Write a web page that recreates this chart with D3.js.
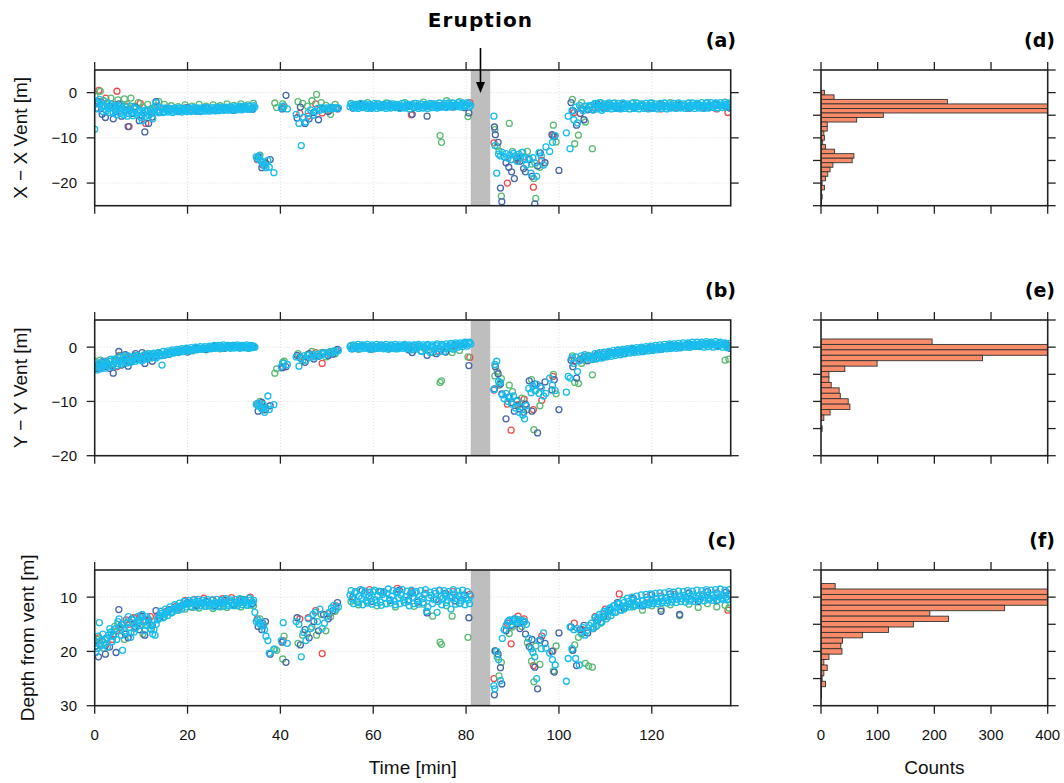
<!DOCTYPE html>
<html><head><meta charset="utf-8">
<script src="https://cdn.jsdelivr.net/npm/d3@7"></script>
<style>body{margin:0;background:#fff}svg{display:block}</style>
</head><body><svg id="c" width="1064" height="783"></svg>
<script>
// ---------------- DATA ----------------
const xTicks = [0,20,40,60,80,100,120];
const countTicks = [0,100,200,300,400];
const eruption = [81, 85.2];
const panelTags = ["(a)","(b)","(c)"];
const histTags = ["(d)","(e)","(f)"];
const yTitles = ["X − X Vent [m]","Y − Y Vent [m]","Depth from vent [m]"];

const cyanT = [0,0.5,1,1.5,2,2.5,3,3.5,4,4.5,5,5.5,6,6.5,7,7.5,8,8.5,9,9.5,10,10.5,11,11.5,12,12.5,13,13.5,14,14.5,15,15.5,16,16.5,17,17.5,18,18.5,19,19.5,20,20.5,21,21.5,22,22.5,23,23.5,24,24.5,25,25.5,26,26.5,27,27.5,28,28.5,29,29.5,30,30.5,31,31.5,32,32.5,33,33.5,34,34.5,
34.8,35.1,35.4,35.7,36.0,36.3,36.6,36.9,37.3,37.6,38.6,40.2,40.6,41.5,43.4,44.0,44.5,45.0,45.5,46.0,46.5,47.0,47.5,48.0,48.5,49.0,49.5,50.0,50.5,51.0,51.5,52.0,52.5,
55,55.5,56,56.5,57,57.5,58,58.5,59,59.5,60,60.5,61,61.5,62,62.5,63,63.5,64,64.5,65,65.5,66,66.5,67,67.5,68,68.5,69,69.5,70,70.5,71,71.5,72,72.5,73,73.5,74,74.5,75,75.5,76,76.5,77,77.5,78,78.5,79,79.5,80,80.5,81,
86.0,86.2,86.6,87.0,87.4,87.8,88.2,88.6,89.0,89.4,89.8,90.2,90.6,91.0,91.4,91.8,92.2,92.6,93.0,93.5,94.0,94.4,94.8,95.2,95.7,96.2,96.7,97.2,98.0,98.6,99.2,101.6,102.0,102.4,102.8,103.2,103.6,104.0,104.4,104.8,105.2,105.6,106.0,106.5,
107,107.5,108,108.5,109,109.5,110,110.5,111,111.5,112,112.5,113,113.5,114,114.5,115,115.5,116,116.5,117,117.5,118,118.5,119,119.5,120,120.5,121,121.5,122,122.5,123,123.5,124,124.5,125,125.5,126,126.5,127,127.5,128,128.5,129,129.5,130,130.5,131,131.5,132,132.5,133,133.5,134,134.5,135,135.5,136,136.5,137];
const cyanX = [-8.1,-2.5,-1.5,-3.2,-2.8,-4.0,-3.5,-2.6,-4.5,-3.8,-3.0,-4.6,-3.4,-4.2,-5.2,-3.9,-4.4,-3.6,-4.8,-4.1,-5.5,-4.6,-5.2,-4.0,-4.6,-5.8,-3.0,-3.9,-4.1,-3.6,-4.2,-3.8,-4.0,-3.7,-4.1,-3.8,-3.6,-4.0,-3.7,-3.9,-3.6,-4.0,-3.8,-3.5,-3.9,-3.7,-4.0,-3.6,-3.8,-3.5,-3.9,-3.6,-3.8,-3.4,-3.7,-3.5,-3.8,-3.4,-3.6,-3.3,-3.7,-3.4,-3.6,-3.2,-3.5,-3.3,-3.6,-3.1,-3.4,-3.2,
-14.2,-14.6,-14.0,-15.0,-15.4,-15.8,-16.2,-16.6,-15.0,-16.5,-17.7,-3.4,-3.0,-3.6,-4.8,-6.8,-11.7,-5.5,-6.5,-4.5,-3.8,-5.0,-4.2,-3.5,-3.9,-3.3,-3.7,-3.4,-3.6,-3.2,-3.5,-3.3,-3.4,
-3.1,-2.8,-3.0,-3.2,-2.9,-3.1,-2.8,-3.0,-3.2,-2.9,-3.1,-2.8,-3.0,-3.3,-2.9,-3.1,-2.8,-3.0,-3.2,-2.9,-3.1,-2.8,-3.0,-3.2,-2.9,-3.1,-2.7,-3.0,-3.2,-2.8,-3.0,-3.3,-2.9,-3.1,-2.7,-3.0,-2.8,-3.1,-2.9,-3.2,-2.8,-3.0,-2.7,-3.0,-2.8,-3.1,-2.7,-2.9,-2.6,-2.9,-2.7,-2.5,-2.8,
-5.2,-11.7,-17.8,-13.6,-14.0,-13.2,-14.2,-13.5,-14.5,-13.8,-14.8,-13.4,-14.0,-15.2,-13.6,-14.2,-13.2,-14.6,-16.0,-14.5,-17.8,-14.4,-15.5,-18.5,-13.3,-14.0,-16.0,-12.0,-13.0,-11.0,-9.5,-8.9,-5.2,-12.4,-4.0,-6.0,-3.2,-6.7,-2.8,-3.5,-4.0,-3.0,-3.6,-2.9,
-2.8,-3.4,-2.6,-3.2,-2.9,-3.5,-3.0,-2.7,-3.2,-2.9,-3.1,-2.8,-3.0,-3.3,-2.9,-3.1,-2.8,-3.0,-3.2,-2.9,-3.1,-2.8,-3.0,-3.2,-2.9,-3.1,-2.8,-3.0,-3.2,-2.9,-3.1,-2.8,-3.0,-3.2,-2.9,-3.1,-2.8,-3.0,-3.1,-2.8,-3.0,-3.2,-2.9,-3.1,-2.8,-3.0,-2.7,-3.0,-2.8,-3.1,-2.9,-2.7,-3.0,-2.8,-2.6,-2.9,-2.7,-2.9,-2.6,-2.8,-2.7];
const cyanY = [-3.6,-4.2,-3.0,-3.8,-3.3,-2.8,-3.5,-2.6,-3.1,-2.4,-3.0,-1.8,-2.6,-2.2,-2.9,-2.0,-2.5,-1.7,-2.3,-1.9,-2.4,-1.6,-2.0,-1.5,-1.9,-1.4,-1.8,-1.2,-1.5,-3.3,-1.3,-1.0,-1.2,-0.9,-1.1,-0.8,-0.9,-0.6,-0.8,-0.5,-0.7,-0.4,-0.6,-0.4,-0.5,-0.2,-0.4,-0.2,-0.3,-0.1,-0.3,0.0,-0.2,0.1,-0.1,0.1,-0.1,0.2,0.0,0.1,-0.1,0.2,0.0,0.1,-0.1,0.2,0.0,0.1,-0.1,0.0,
-10.5,-10.8,-10.3,-11.0,-11.4,-10.6,-12.0,-11.2,-9.0,-11.5,-10.6,-3.6,-3.0,-3.2,-1.8,-3.5,-2.0,-1.6,-2.4,-1.5,-1.9,-1.4,-1.8,-1.3,-1.6,-1.2,-1.0,-1.4,-0.9,-1.1,-0.7,-0.9,-0.6,
0.1,-0.2,0.2,-0.1,0.1,0.3,0.0,0.2,-0.1,0.1,0.2,-0.2,0.1,0.3,0.0,0.2,-0.1,0.1,0.3,0.0,0.2,-0.1,0.1,0.3,0.0,0.2,-0.2,0.1,0.3,-0.1,0.2,-0.8,0.1,0.3,-0.6,0.2,0.0,0.3,-0.9,0.1,0.3,-0.3,0.2,0.4,-0.2,0.5,0.3,0.6,0.4,0.7,0.5,0.8,0.6,
-7.8,-3.2,-2.6,-6.3,-6.5,-8.8,-9.5,-8.5,-10.0,-9.2,-10.5,-9.0,-11.2,-10.0,-12.0,-11.0,-12.5,-13.2,-10.8,-7.6,-8.4,-7.2,-8.0,-6.8,-8.5,-7.5,-9.0,-8.5,-5.7,-7.0,-8.0,-8.3,-5.4,-5.7,-2.0,-3.0,-1.8,-4.5,-2.5,-1.6,-2.2,-1.4,-2.0,-1.7,
-1.9,-1.6,-2.0,-1.5,-1.7,-1.3,-1.6,-1.2,-1.4,-1.0,-1.2,-0.9,-1.1,-0.8,-0.9,-0.6,-0.8,-0.5,-0.7,-0.4,-0.6,-0.3,-0.5,-0.3,-0.4,-0.2,-0.3,-0.1,-0.2,0.0,-0.1,0.1,0.0,0.2,0.1,0.3,0.1,0.3,0.2,0.4,0.2,0.4,0.3,0.5,0.3,0.5,0.4,0.6,0.4,0.6,0.5,0.7,0.4,0.6,0.5,0.7,0.4,0.6,0.3,0.2,0.1];
const cyanD = [18.5,19.5,14.7,18.0,18.8,17.5,17.0,16.5,17.2,15.8,14.5,15.5,19.8,16.2,14.8,15.6,14.2,16.4,15.0,14.3,13.8,14.6,15.2,14.0,15.8,16.8,17.0,14.2,13.4,13.0,13.2,12.8,12.5,12.7,12.2,12.0,11.8,11.6,11.5,11.2,11.3,11.0,11.2,10.9,11.1,10.8,11.2,11.0,11.3,10.9,11.1,11.4,11.0,11.2,10.9,11.1,11.0,11.3,10.8,11.0,11.2,10.9,11.1,10.7,11.0,10.8,11.1,10.6,10.9,12.8,
14.5,14.2,14.8,15.0,14.6,15.3,16.0,17.2,18.0,20.3,19.6,18.0,14.7,18.5,14.5,15.0,21.0,16.5,18.0,14.0,15.8,13.2,12.8,14.5,12.2,15.8,14.8,13.5,12.8,12.0,11.5,12.2,11.8,
9.6,10.4,9.2,10.8,9.8,10.2,9.4,10.6,9.9,10.3,9.0,10.5,9.7,10.9,9.5,10.1,9.3,10.4,9.8,10.7,9.1,10.2,9.6,10.5,9.9,10.8,9.4,10.0,9.2,10.6,9.8,10.3,9.5,12.6,10.1,9.7,10.4,9.3,10.8,9.9,10.2,9.6,10.5,9.8,10.1,9.4,10.3,9.7,10.6,9.9,10.2,10.5,9.8,
26.3,26.9,20.0,21.5,25.4,17.6,16.0,15.2,14.5,14.2,15.0,14.4,14.0,14.6,14.2,14.8,14.3,14.5,15.0,17.6,19.5,20.2,21.0,25.0,18.0,19.5,16.6,19.4,20.3,21.5,22.5,25.5,21.3,15.5,19.5,16.0,21.3,15.8,22.5,16.5,15.6,17.0,16.2,15.2,
14.8,15.5,14.2,13.8,14.6,13.0,13.5,12.6,12.0,12.8,11.5,11.9,11.2,12.4,11.0,11.6,10.8,11.3,10.6,11.4,10.9,11.5,10.7,11.2,10.5,11.0,10.4,10.9,10.3,10.8,10.2,10.7,10.1,10.6,10.0,10.5,9.9,10.4,9.8,10.3,9.7,10.2,9.9,10.4,9.6,10.1,9.8,10.3,9.5,10.0,9.7,10.2,9.6,10.1,9.4,9.9,10.2,9.7,10.0,10.4,9.8];

// second cyan pass, interleaved detections in the dense stretches
const cyanT2 = [0.25,0.75,1.25,1.75,2.25,2.75,3.25,3.75,4.25,4.75,5.25,5.75,6.25,6.75,7.25,7.75,8.25,8.75,9.25,9.75,10.25,10.75,11.25,11.75,12.25,12.75,13.25,13.75,14.25,14.75,15.25,15.75,16.25,16.75,17.25,17.75,18.25,18.75,19.25,19.75,20.25,20.75,21.25,21.75,22.25,22.75,23.25,23.75,24.25,24.75,25.25,25.75,26.25,26.75,27.25,27.75,28.25,28.75,29.25,29.75,30.25,30.75,31.25,31.75,32.25,32.75,33.25,33.75,34.25,
55.25,55.75,56.25,56.75,57.25,57.75,58.25,58.75,59.25,59.75,60.25,60.75,61.25,61.75,62.25,62.75,63.25,63.75,64.25,64.75,65.25,65.75,66.25,66.75,67.25,67.75,68.25,68.75,69.25,69.75,70.25,70.75,71.25,71.75,72.25,72.75,73.25,73.75,74.25,74.75,75.25,75.75,76.25,76.75,77.25,77.75,78.25,78.75,79.25,79.75,80.25,80.75,
107.25,107.75,108.25,108.75,109.25,109.75,110.25,110.75,111.25,111.75,112.25,112.75,113.25,113.75,114.25,114.75,115.25,115.75,116.25,116.75,117.25,117.75,118.25,118.75,119.25,119.75,120.25,120.75,121.25,121.75,122.25,122.75,123.25,123.75,124.25,124.75,125.25,125.75,126.25,126.75,127.25,127.75,128.25,128.75,129.25,129.75,130.25,130.75,131.25,131.75,132.25,132.75,133.25,133.75,134.25,134.75,135.25,135.75,136.25,136.75];
const cyanX2 = [-2.0,-3.6,-2.4,-4.2,-3.0,-2.2,-4.4,-3.2,-2.9,
-4.9,-3.5,-2.8,-4.9,-3.2,-4.6,-3.0,-5.1,-3.4,-4.4,
-3.9,-6.2,-4.0,-3.8,-5.0,-4.4,-3.4,-2.2,-4.4,-3.3,
-4.4,-3.4,-4.3,-3.5,-4.4,-3.4,-4.2,-3.4,-4.3,-3.5,
-4.2,-3.4,-4.2,-3.3,-4.1,-3.4,-4.2,-3.3,-4.1,-3.3,
-4.1,-3.3,-4.0,-3.2,-4.0,-3.2,-3.9,-3.2,-3.9,-3.1,
-3.9,-3.1,-3.8,-3.0,-3.8,-3.0,-3.7,-3.0,-3.7,-2.9,
-2.5,-3.4,-2.6,-3.5,-2.4,-3.3,-2.5,-3.5,-2.6,-3.4,
-2.4,-3.5,-2.5,-3.3,-2.6,-3.5,-2.4,-3.4,-2.5,-3.3,
-2.6,-3.5,-2.4,-3.4,-2.5,-3.6,-2.6,-3.3,-2.4,-3.5,
-2.5,-3.4,-2.6,-3.5,-2.4,-3.3,-2.5,-3.4,-2.3,-3.2,
-2.4,-3.3,-2.3,-3.2,-2.4,-3.1,-2.2,-3.2,-2.3,-3.0,
-2.2,-3.1,
-3.8,-2.4,-3.6,-2.2,-3.9,-2.5,-3.5,-2.3,-3.6,-2.4,
-3.5,-2.4,-3.6,-2.3,-3.5,-2.5,-3.6,-2.4,-3.5,-2.3,
-3.6,-2.5,-3.5,-2.4,-3.6,-2.3,-3.5,-2.5,-3.6,-2.4,
-3.5,-2.3,-3.6,-2.5,-3.4,-2.4,-3.5,-2.3,-3.4,-2.5,
-3.5,-2.4,-3.4,-2.3,-3.5,-2.4,-3.4,-2.2,-3.5,-2.3,
-3.4,-2.2,-3.3,-2.3,-3.4,-2.2,-3.3,-2.2,-3.2,-2.3];
const cyanY2 = [-2.9,-3.7,-4.0,-2.6,-3.9,-3.0,-2.3,-3.6,-2.2,
-3.4,-2.4,-3.1,-1.6,-2.7,-1.6,-2.8,-2.0,-2.6,-1.5,
-2.1,-2.5,-1.4,-2.2,-1.2,-1.9,-1.1,-2.0,-1.0,-1.6,
-0.8,-1.4,-0.7,-1.2,-0.5,-1.0,-0.4,-0.9,-0.3,-0.8,
-0.2,-0.6,-0.1,-0.5,0.0,-0.4,0.1,-0.3,0.1,-0.2,
0.2,-0.2,0.3,-0.1,0.3,-0.2,0.4,-0.1,0.3,-0.2,
0.3,-0.1,0.4,-0.2,0.3,-0.1,0.4,-0.2,0.3,0.2,
-0.3,0.4,-0.2,0.5,-0.3,0.4,-0.2,0.5,-0.4,0.4,
-0.3,0.5,-0.2,0.4,-0.3,0.5,-0.4,0.4,-0.2,0.5,
-0.3,0.4,-0.2,0.5,-0.3,0.4,-0.5,0.4,-0.3,0.5,
-0.7,0.4,-0.3,0.5,-1.0,0.4,-0.4,0.6,-0.2,0.5,
-0.8,0.6,-0.1,0.7,-0.4,0.8,0.0,0.8,0.1,0.9,
0.2,0.9,
-2.3,-1.2,-2.1,-1.0,-2.0,-0.9,-1.8,-0.8,-1.7,-0.6,
-1.5,-0.5,-1.4,-0.4,-1.2,-0.3,-1.1,-0.2,-1.0,-0.1,
-0.9,0.0,-0.8,0.1,-0.7,0.2,-0.6,0.3,-0.5,0.4,
-0.4,0.5,-0.3,0.6,-0.2,0.6,-0.2,0.7,-0.1,0.8,
0.0,0.8,0.0,0.9,0.1,0.9,0.1,0.9,0.0,1.0,
0.1,0.9,0.0,1.0,0.1,0.9,0.0,0.8,-0.1,0.7];
const cyanD2 = [20.2,17.2,19.0,16.8,17.8,19.2,15.8,18.2,16.0,
17.8,14.0,17.0,15.0,16.6,13.6,17.4,14.8,15.8,13.6,
15.2,13.2,16.2,13.6,14.8,15.2,16.0,15.0,13.8,12.6,
13.8,12.2,13.4,11.8,12.8,11.4,12.4,11.1,12.2,10.8,
11.8,10.6,11.7,10.5,11.8,10.4,11.6,10.6,11.7,10.4,
11.6,10.5,11.8,10.4,11.6,10.6,11.7,10.3,11.6,10.5,
11.5,10.4,11.6,10.3,11.4,10.5,11.5,10.2,11.4,10.6,
8.8,11.2,9.0,11.0,8.6,11.4,8.9,11.1,9.1,11.3,
8.7,11.0,8.9,11.5,9.0,11.2,8.5,11.1,8.8,11.4,
9.0,11.2,8.6,11.0,8.9,11.6,8.7,11.2,9.0,11.3,
8.8,11.0,8.6,11.8,9.1,11.2,8.9,12.8,8.7,11.4,
8.8,11.0,9.0,12.2,8.6,11.3,8.9,11.1,8.7,11.4,
9.0,11.2,
15.8,13.8,15.2,13.2,14.6,12.6,14.0,12.2,13.4,11.6,
12.8,11.2,12.4,10.6,12.0,10.2,11.8,10.0,11.6,9.8,
11.5,9.6,11.4,9.5,11.4,9.4,11.2,9.3,11.2,9.2,
11.0,9.2,11.1,9.0,10.9,9.1,11.0,8.9,10.8,9.0,
10.9,8.8,10.7,8.9,10.8,8.7,10.6,8.8,10.7,8.6,
10.5,8.7,10.6,8.6,10.5,8.5,10.4,8.7,10.5,8.6];

const blueT = [0.3,0.8,1.6,2.3,3.2,4.0,4.6,5.2,5.8,6.6,7.2,8.0,8.8,9.6,10.2,10.8,11.6,12.4,13.2,14.0,16,18,20,22,24,26,28,30,32,34,35.2,36.0,36.8,37.8,40.4,41.2,43.6,44.3,45.3,46.2,47.2,48.2,49.3,50.3,51.3,52.3,55.6,57.6,59.6,61.6,63.6,65.6,67.6,68.4,69.6,71.6,73.6,75.6,77.6,79.6,80.6,86.1,86.3,86.9,87.4,87.7,88.6,89.2,89.8,90.4,91.0,91.6,92.4,92.8,93.6,94.2,94.8,95.4,96.0,97.0,98.5,99.0,100.0,102.6,103.0,103.8,104.6,105.4,106.2,107.4,108.4,109.6,111.0,112.6,114.0,116.0,118.0,120.0,122.0,124.0,126,128,130,132,134,136,136.8];
const blueX = [-3.5,-2.0,-4.8,-5.5,-3.0,-5.8,-4.2,-2.5,-5.2,-3.8,-7.5,-4.6,-3.2,-6.2,-5.0,-8.7,-6.8,-5.4,-2.0,-4.4,-3.5,-4.2,-3.3,-4.1,-3.4,-4.0,-3.3,-3.9,-3.2,-3.7,-14.2,-16.6,-15.6,-14.8,-3.6,-0.6,-5.6,-3.2,-6.8,-5.8,-4.4,-6.0,-3.6,-4.2,-3.3,-3.6,-3.4,-2.6,-3.4,-3.0,-2.7,-3.3,-2.9,-4.8,-3.1,-5.2,-3.0,-3.2,-2.9,-3.3,-4.5,-7.6,-9.3,-11.0,-21.1,-24.1,-15.5,-16.5,-17.5,-19.0,-14.4,-15.2,-16.8,-17.5,-14.8,-18.5,-24.6,-16.2,-13.3,-15.5,-9.3,-9.7,-17.2,-2.2,-4.0,-7.2,-4.6,-6.0,-3.8,-3.8,-2.6,-3.4,-2.8,-3.4,-2.7,-3.3,-2.9,-3.4,-2.7,-3.3,-2.8,-3.2,-2.9,-3.3,-2.8,-3.1,-3.4];
const blueY = [-3.9,-3.2,-2.7,-3.6,-3.9,-4.8,-2.4,-0.8,-3.3,-1.4,-3.5,-2.6,-1.2,-2.2,-1.0,-3.0,-1.8,-2.6,-1.5,-1.4,-1.3,-0.7,-0.9,-0.2,-0.4,0.2,-0.2,0.3,0.0,0.2,-11.8,-10.2,-11.5,-10.8,-3.8,-3.6,-1.5,-2.0,-2.8,-1.2,-2.2,-1.7,-1.0,-1.6,-1.3,-0.4,-0.3,0.2,-0.4,0.3,-0.2,0.1,-0.5,-1.0,0.2,-1.5,-1.2,-0.9,0.3,0.6,-3.4,-7.7,-3.6,-4.9,-6.8,-8.6,-13.2,-9.2,-10.2,-11.8,-9.8,-11.4,-12.0,-10.5,-6.2,-11.8,-6.8,-15.8,-7.2,-6.4,-7.9,-6.0,-11.5,-2.4,-3.6,-5.7,-2.2,-1.8,-2.5,-2.0,-1.2,-1.8,-1.0,-0.6,-1.2,-0.4,-0.8,0.1,-0.4,0.3,-0.1,0.6,0.2,0.7,0.3,0.6,-0.2];
const blueD = [19.0,21.0,18.0,20.5,19.2,17.0,20.2,12.3,15.0,16.8,17.5,14.0,15.5,16.0,13.5,17.0,14.2,15.2,12.5,13.8,12.3,12.0,11.0,11.5,10.8,11.6,10.6,11.4,10.5,11.2,15.4,16.0,14.5,20.5,18.3,22.0,13.8,18.8,16.0,17.5,14.5,16.2,13.2,14.0,12.5,11.0,10.0,8.8,10.8,9.0,10.6,8.7,10.5,9.2,10.9,12.9,10.4,9.3,10.7,9.6,13.8,28.0,19.9,20.5,23.0,26.0,16.2,14.4,15.2,14.0,14.8,15.8,14.6,16.8,19.1,17.8,22.9,26.9,17.9,18.5,20.0,23.8,16.6,15.5,19.8,22.6,16.0,15.2,16.6,15.8,14.2,13.6,12.4,11.0,12.0,10.2,11.6,9.6,12.6,9.4,13.2,9.2,10.8,9.0,10.6,9.1,9.5];

const greenT = [0.1,0.6,1.2,1.9,2.7,3.5,4.3,5.0,5.6,6.4,7.0,7.8,8.6,9.4,10.4,11.4,12.2,13.8,15.0,16.5,18.0,19.5,21.0,22.5,24.0,25.5,27.0,28.5,30.0,31.5,33.0,34.2,35.6,36.4,38.8,39.2,40.5,40.8,43.8,44.8,45.8,46.8,47.8,48.8,49.8,50.8,51.8,55.2,56.8,58.8,60.8,62.8,64.8,66.8,68.8,70.8,72.8,74.4,74.7,75.8,77.0,78.6,80.4,86.2,86.7,87.1,87.6,89.3,90.0,91.2,92.0,93.2,94.1,94.6,95.0,95.9,98.8,99.4,102.9,103.4,104.2,104.9,105.7,106.4,107.2,108.0,109.0,110.5,112.0,114.0,116.0,118.0,120.0,122.0,124.0,126.0,128.0,130.0,132.0,134.0,135.8,136.6];
const greenX = [-0.8,-2.0,0.3,-1.8,-2.5,-1.2,-3.6,-1.6,-2.8,-1.4,-2.6,-1.2,-3.0,-2.2,-3.2,-2.6,-3.6,-2.0,-2.6,-2.9,-3.1,-2.7,-3.0,-2.6,-3.0,-2.7,-2.9,-2.5,-2.8,-2.5,-2.7,-2.4,-13.8,-15.2,-2.3,-3.3,-2.5,-3.0,-2.0,-2.4,-3.0,-1.8,-0.4,-2.2,-2.8,-4.8,-2.6,-2.4,-2.6,-2.2,-2.5,-2.3,-2.6,-2.2,-2.4,-2.1,-2.5,-9.5,-11.0,-1.8,-2.3,-2.0,-5.3,-8.2,-11.9,-12.9,-22.9,-6.8,-13.0,-14.6,-13.2,-13.0,-15.8,-19.0,-23.4,-16.5,-7.2,-10.9,-1.5,-11.3,-9.4,-2.2,-6.5,-3.2,-12.4,-2.4,-2.2,-2.6,-2.3,-2.5,-2.2,-2.6,-2.3,-2.5,-2.2,-2.6,-2.3,-2.5,-2.2,-2.4,-2.1,-2.6];
const greenY = [-2.6,-3.8,-2.4,-3.0,-3.4,-2.2,-2.8,-1.9,-1.6,-3.0,-1.8,-2.4,-1.5,-2.2,-1.6,-1.2,-2.0,-1.0,-1.5,-0.8,-1.0,-0.5,-0.7,-0.3,-0.5,-0.1,-0.3,0.1,-0.1,0.1,-0.2,0.0,-10.0,-11.6,-4.8,-4.0,-2.8,-2.6,-1.2,-2.5,-1.4,-0.8,-1.6,-1.0,-1.8,-0.8,-1.2,0.3,-0.4,0.1,-0.2,0.0,-0.3,0.2,-0.5,-0.1,-1.0,-6.5,-6.2,-0.2,-1.0,-0.6,-1.8,-5.3,-4.5,-7.0,-5.8,-7.0,-8.2,-10.8,-9.4,-11.5,-6.0,-15.2,-8.0,-10.8,-5.0,-8.6,-1.6,-6.5,-6.7,-3.0,-2.5,-1.5,-5.1,-2.2,-1.6,-1.4,-1.0,-0.5,-0.8,-0.2,-0.5,0.0,-0.2,0.2,0.0,0.4,0.1,0.5,-2.4,-2.2];
const greenD = [18.2,17.8,18.6,19.4,17.6,16.4,15.4,15.0,16.2,17.8,14.6,16.6,15.8,14.8,16.8,15.2,16.0,14.0,13.6,12.9,12.4,12.2,11.9,12.0,11.7,12.1,11.8,11.9,11.6,11.8,11.5,11.6,14.0,15.2,19.6,19.8,21.4,17.2,18.5,17.0,16.8,15.5,17.0,13.2,16.2,13.6,12.6,10.8,11.4,10.9,11.6,11.2,11.8,11.0,11.7,11.3,13.5,18.3,18.7,11.6,13.5,11.2,17.4,19.9,21.0,24.5,22.0,16.7,15.5,14.2,15.4,18.4,21.8,25.6,19.0,22.4,23.6,19.0,19.8,18.8,17.4,16.8,22.2,22.7,22.9,15.4,14.8,13.6,12.8,12.2,11.8,12.4,11.6,12.2,11.4,13.4,11.3,11.9,11.2,11.8,11.5,12.0];

const redT = [0.9,2.4,3.8,4.8,5.4,6.8,7.4,8.4,9.8,11.0,12.0,13.6,15.5,17.5,19.5,21.5,23.5,25.5,27.5,29.5,31.5,33.5,35.0,36.2,40.6,44.2,46.0,47.6,49.0,50.6,52.0,56.2,59.2,62.2,65.2,68.2,71.2,74.2,77.2,80.8,86.0,88.9,89.7,91.2,92.5,94.5,96.3,98.7,103.3,105.0,107.8,110.0,113.0,116.0,119.0,122.0,125.0,128.0,131.0,134.0,136.4];
const redX = [0.5,-1.2,-2.6,0.3,-4.0,-3.0,-7.5,-3.4,-2.4,-6.8,-3.8,-3.0,-3.6,-3.9,-3.4,-3.8,-3.5,-3.9,-3.4,-3.8,-3.3,-3.6,-14.8,-16.0,-3.2,-4.6,-5.2,-2.5,-4.5,-3.9,-3.5,-3.0,-3.2,-2.9,-3.1,-4.9,-3.0,-2.9,-3.2,-2.2,-11.1,-20.0,-14.8,-15.0,-14.2,-20.9,-15.0,-9.5,-4.4,-3.6,-3.4,-3.3,-3.5,-3.2,-3.4,-3.6,-3.3,-3.5,-3.4,-3.6,-4.4];
const redY = [-3.8,-2.6,-3.4,-3.6,-1.5,-2.0,-2.8,-1.8,-2.2,-1.4,-1.7,-1.1,-1.0,-0.8,-0.4,-0.5,-0.2,0.1,0.0,0.2,0.0,0.2,-10.4,-11.0,-3.7,-1.8,-1.4,-1.0,-3.0,-1.2,-0.6,0.2,0.0,0.1,-0.1,0.2,-0.3,-0.8,0.2,-1.9,-7.9,-10.5,-15.3,-10.6,-9.6,-11.5,-9.8,-5.4,-2.5,-2.2,-1.7,-1.0,-0.9,-0.5,-0.2,0.0,0.2,0.3,0.5,0.4,0.3];
const redD = [17.5,18.8,17.8,16.2,15.6,14.2,15.0,13.8,13.4,14.4,13.6,13.4,12.6,11.7,10.6,10.4,10.2,10.5,10.3,10.1,10.4,10.0,14.0,14.8,18.0,14.0,13.8,12.5,20.4,13.0,11.6,9.0,8.6,9.1,8.4,8.9,9.3,8.8,9.0,9.5,25.0,14.8,18.6,13.5,14.0,22.6,17.2,19.9,14.8,16.0,13.6,12.2,9.4,10.5,10.0,9.8,9.5,9.3,9.6,9.2,12.4];

// histogram bins (1 m wide, centred on integer values) and counts
const histXCenters = [0,-1,-2,-3,-4,-5,-6,-7,-8,-9,-10,-11,-12,-13,-14,-15,-16,-17,-18,-19,-20,-21,-22,-23,-24,-25];
const histXCounts  = [6,23,223,560,520,110,63,11,11,5,6,3,8,24,58,55,21,16,12,8,2,6,1,2,1,1];
const histYCenters = [1,0,-1,-2,-3,-4,-5,-6,-7,-8,-9,-10,-11,-12,-13,-14,-15];
const histYCounts  = [196,560,540,285,99,42,14,14,18,32,34,48,51,16,5,0,2];
const histDCenters = [8,9,10,11,12,13,14,15,16,17,18,19,20,21,22,23,24,25,26,27,28];
const histDCounts  = [25,560,600,540,324,192,225,163,119,73,38,35,37,14,5,11,5,2,8,1,1];

// ---------------- DRAWING ----------------
const svg = d3.select("#c");
const X0 = 94.7, X1 = 730.7, H0 = 821, H1 = 1047.7;
const tops = [70, 320, 570], PH = 135.7;
const TL = 8;
const cols = {red:"#EE4D4D", green:"#5BBB72", blue:"#4766A8", cyan:"#18BDEE"};
const series = [
  {c:cols.red,   t:redT,   v:[redX, redY, redD]},
  {c:cols.green, t:greenT, v:[greenX, greenY, greenD]},
  {c:cols.blue,  t:blueT,  v:[blueX, blueY, blueD]},
  {c:cols.cyan,  t:cyanT.concat(cyanT2),  v:[cyanX.concat(cyanX2), cyanY.concat(cyanY2), cyanD.concat(cyanD2)]}
];
const panels = [
  {dom:[-25,5], yt:[0,-10,-20], ht:[-25,-20,-15,-10,-5,0,5], hc:histXCenters, hn:histXCounts, tx:27},
  {dom:[-20,5], yt:[0,-10,-20], ht:[-20,-15,-10,-5,0,5], hc:histYCenters, hn:histYCounts, tx:27},
  {dom:[30,5],  yt:[10,20,30],  ht:[5,10,15,20,25,30], hc:histDCenters, hn:histDCounts, tx:34}
];
const x = d3.scaleLinear().domain([0,137]).range([X0,X1]);
const hx = d3.scaleLinear().domain([0,400]).range([H0,H1]);
const fmt = v => v < 0 ? "\u2212" + Math.abs(v) : String(v);
const defs = svg.append("defs");
const FONT = "'Liberation Sans', Arial, sans-serif";
const BOLD = "'DejaVu Sans', sans-serif";
const LINE = "#222";

panels.forEach((p, i) => {
  const top = tops[i], bot = top + PH;
  const y = d3.scaleLinear().domain(p.dom).range([bot, top]);
  const g = svg.append("g");
  defs.append("clipPath").attr("id","cs"+i).append("rect").attr("x",X0).attr("y",top).attr("width",X1-X0).attr("height",PH);
  defs.append("clipPath").attr("id","ch"+i).append("rect").attr("x",H0).attr("y",top).attr("width",H1-H0).attr("height",PH);

  // grid
  g.selectAll(".gv").data(xTicks.filter(d=>d>0)).join("line")
    .attr("x1",d=>x(d)).attr("x2",d=>x(d)).attr("y1",top).attr("y2",bot)
    .attr("stroke","#d6d6d6").attr("stroke-width",0.8).attr("stroke-dasharray","1,2");
  g.selectAll(".gh").data(p.yt.filter(d=>y(d)>top+1 && y(d)<bot-1)).join("line")
    .attr("x1",X0).attr("x2",X1).attr("y1",d=>y(d)).attr("y2",d=>y(d))
    .attr("stroke","#d6d6d6").attr("stroke-width",0.8).attr("stroke-dasharray","1,2");

  // eruption band
  g.append("rect").attr("x",x(eruption[0])).attr("width",x(eruption[1])-x(eruption[0]))
    .attr("y",top).attr("height",PH).attr("fill","#BEBEBE");

  // points
  const pg = g.append("g").attr("clip-path","url(#cs"+i+")");
  series.forEach(s => {
    const pts = s.t.map((t,k)=>[t, s.v[i][k]]);
    pg.append("g").selectAll("circle").data(pts).join("circle")
      .attr("cx",d=>x(d[0])).attr("cy",d=>y(d[1])).attr("r",3)
      .attr("fill","none").attr("stroke",s.c).attr("stroke-width",1.3);
  });

  // scatter frame & ticks
  g.append("rect").attr("x",X0).attr("y",top).attr("width",X1-X0).attr("height",PH)
    .attr("fill","none").attr("stroke",LINE).attr("stroke-width",1.6);
  xTicks.forEach(t => {
    g.append("line").attr("x1",x(t)).attr("x2",x(t)).attr("y1",top-TL).attr("y2",top).attr("stroke",LINE).attr("stroke-width",1.3);
    g.append("line").attr("x1",x(t)).attr("x2",x(t)).attr("y1",bot).attr("y2",bot+TL).attr("stroke",LINE).attr("stroke-width",1.3);
  });
  p.yt.forEach(t => {
    g.append("line").attr("x1",X0-TL).attr("x2",X0).attr("y1",y(t)).attr("y2",y(t)).attr("stroke",LINE).attr("stroke-width",1.3);
    g.append("line").attr("x1",X1).attr("x2",X1+TL).attr("y1",y(t)).attr("y2",y(t)).attr("stroke",LINE).attr("stroke-width",1.3);
    g.append("text").attr("x",77).attr("y",y(t)).attr("dy","0.36em").attr("text-anchor","end")
      .attr("font-family",FONT).attr("font-size",15).attr("fill","#111").text(fmt(t));
  });
  g.append("text").attr("transform",`translate(${p.tx},${top+PH/2}) rotate(-90)`).attr("text-anchor","middle")
    .attr("font-family",FONT).attr("font-size",19).attr("fill","#111").text(yTitles[i]);
  g.append("text").attr("x",736).attr("y",top-23).attr("text-anchor","end")
    .attr("font-family",BOLD).attr("font-weight","bold").attr("font-size",19).attr("fill","#000").text(panelTags[i]);

  // histogram
  const hg = g.append("g").attr("clip-path","url(#ch"+i+")");
  hg.selectAll("rect").data(p.hc.map((c,k)=>[c,p.hn[k]]).filter(d=>d[1]>0)).join("rect")
    .attr("x",H0).attr("y",d=>Math.min(y(d[0]+0.5),y(d[0]-0.5)))
    .attr("height",d=>Math.abs(y(d[0]+0.5)-y(d[0]-0.5)))
    .attr("width",d=>hx(d[1])-H0)
    .attr("fill","#F98B68").attr("stroke","#333").attr("stroke-width",0.9);
  g.append("rect").attr("x",H0).attr("y",top).attr("width",H1-H0).attr("height",PH)
    .attr("fill","none").attr("stroke",LINE).attr("stroke-width",1.6);
  countTicks.forEach(t => {
    g.append("line").attr("x1",hx(t)).attr("x2",hx(t)).attr("y1",top-TL).attr("y2",top).attr("stroke",LINE).attr("stroke-width",1.3);
    g.append("line").attr("x1",hx(t)).attr("x2",hx(t)).attr("y1",bot).attr("y2",bot+TL).attr("stroke",LINE).attr("stroke-width",1.3);
  });
  p.ht.forEach(t => {
    g.append("line").attr("x1",H0-TL).attr("x2",H0).attr("y1",y(t)).attr("y2",y(t)).attr("stroke",LINE).attr("stroke-width",1.3);
    g.append("line").attr("x1",H1).attr("x2",H1+TL).attr("y1",y(t)).attr("y2",y(t)).attr("stroke",LINE).attr("stroke-width",1.3);
  });
  g.append("text").attr("x",1055).attr("y",top-23).attr("text-anchor","end")
    .attr("font-family",BOLD).attr("font-weight","bold").attr("font-size",19).attr("fill","#000").text(histTags[i]);

  if (i === 2) {
    xTicks.forEach(t => g.append("text").attr("x",x(t)).attr("y",740).attr("text-anchor","middle")
      .attr("font-family",FONT).attr("font-size",15).attr("fill","#111").text(t));
    countTicks.forEach(t => g.append("text").attr("x",hx(t)).attr("y",740).attr("text-anchor","middle")
      .attr("font-family",FONT).attr("font-size",15).attr("fill","#111").text(t));
    g.append("text").attr("x",(X0+X1)/2).attr("y",774).attr("text-anchor","middle")
      .attr("font-family",FONT).attr("font-size",19).attr("fill","#111").text("Time [min]");
    g.append("text").attr("x",(H0+H1)/2).attr("y",774).attr("text-anchor","middle")
      .attr("font-family",FONT).attr("font-size",19).attr("fill","#111").text("Counts");
  }
});

// eruption annotation
const ex = x((eruption[0]+eruption[1])/2);
svg.append("text").attr("x",ex).attr("y",27).attr("text-anchor","middle")
  .attr("font-family",BOLD).attr("font-weight","bold").attr("font-size",20).attr("letter-spacing",1.1)
  .attr("fill","#000").text("Eruption");
svg.append("line").attr("x1",ex).attr("x2",ex).attr("y1",48).attr("y2",84).attr("stroke","#000").attr("stroke-width",1.6);
svg.append("path").attr("d",`M${ex-4.5},82 L${ex+4.5},82 L${ex},93 Z`).attr("fill","#000");
</script></body></html>
